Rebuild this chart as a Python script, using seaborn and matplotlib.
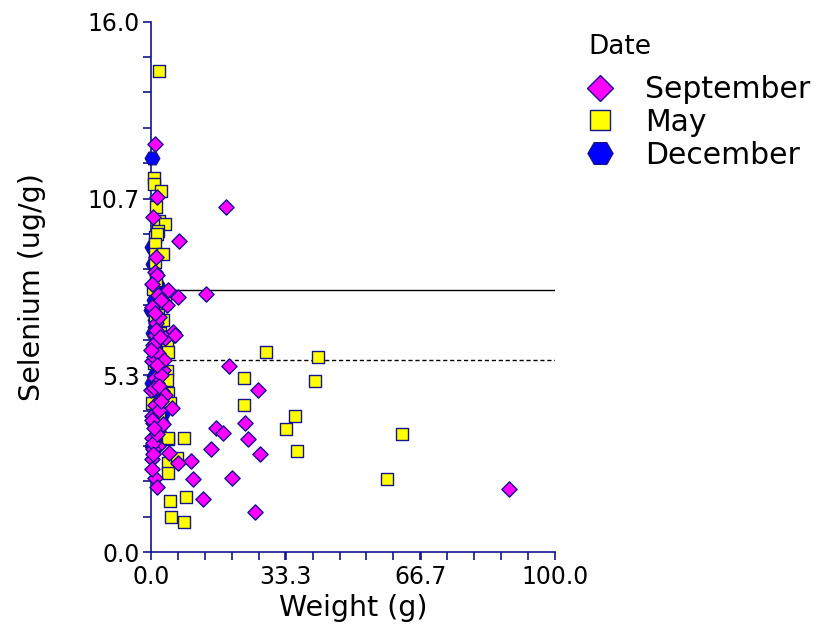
import numpy as np
import pandas as pd
import matplotlib
matplotlib.use("Agg")
import matplotlib.pyplot as plt
import seaborn as sns
from matplotlib.ticker import FixedLocator, MultipleLocator
from matplotlib.lines import Line2D

# ---- data ----
sep_weight = [1.0, 18.6, 6.9, 13.6, 6.7, 5.7, 19.3, 26.5, 23.3, 16.1, 17.8, 24.0, 14.9, 27.0,
              9.9, 20.0, 10.4, 12.9, 25.7, 88.6,
              1.5, 0.5, 1.0, 1.5, 4.2, 1.7, 4.0, 1.0, 5.4, 3.5, 5.9, 0.5, 0.2, 1.0, 1.5,
              0.0, 2.7, 5.2, 0.5, 1.5, 0.2, 1.7, 0.5, 0.2, 6.7, 1.0, 1.5, 2.2, 0.8, 1.2,
              2.0, 0.3, 3.0, 0.6, 1.8, 2.4, 0.4, 1.1, 3.2, 0.9,
              0.3, 1.3, 2.6, 0.7, 1.9, 0.1, 2.9, 1.4, 0.6, 2.1, 0.2, 1.6, 3.6, 0.9, 2.3,
              0.4, 1.2, 4.4, 0.8, 2.5]
sep_selenium = [12.3, 10.4, 9.4, 7.8, 7.7, 6.55, 5.6, 4.9, 3.9, 3.75, 3.6, 3.4, 3.1, 2.95,
                2.75, 2.25, 2.2, 1.6, 1.2, 1.9,
                10.7, 10.1, 8.45, 8.35, 7.9, 7.75, 7.45, 6.55, 6.65, 6.45, 6.55, 6.25, 5.75, 5.25, 5.1,
                4.9, 4.85, 4.35, 3.9, 3.7, 3.45, 3.2, 3.1, 2.8, 2.7, 2.25, 1.95, 4.6, 5.9, 6.9,
                7.1, 4.1, 5.5, 3.3, 6.0, 7.6, 8.1, 4.45, 5.8, 6.3,
                7.4, 6.7, 5.35, 4.95, 4.3, 6.1, 3.85, 3.55, 2.95, 5.0, 4.0, 5.65, 4.75, 7.2, 6.5,
                2.5, 8.9, 3.0, 3.75, 4.55]

may_weight = [2.0, 28.5, 41.3, 23.0, 40.6, 23.0, 35.6, 33.4, 62.1, 36.1, 58.4, 8.2, 8.7, 4.7,
              5.0, 8.2, 4.2, 6.4, 4.2, 4.2,
              0.7, 0.7, 2.5, 1.2, 2.0, 3.5, 1.7, 1.0, 1.5, 1.0, 1.0, 3.0, 1.0, 0.5, 1.7,
              3.0, 1.0, 4.0, 4.2, 4.0, 4.0, 4.2, 0.2, 4.7, 4.2, 1.3, 2.2, 0.8, 3.4, 1.9]
may_selenium = [14.5, 6.05, 5.9, 5.25, 5.15, 4.45, 4.1, 3.7, 3.55, 3.05, 2.2, 3.45, 1.65, 1.55,
                1.05, 0.9, 2.7, 2.85, 2.4, 3.4,
                11.3, 11.1, 10.9, 10.4, 10.0, 9.9, 9.7, 9.5, 9.6, 9.3, 9.0, 9.0, 8.75, 7.95, 7.25,
                7.0, 7.05, 6.35, 6.05, 5.45, 5.2, 4.8, 4.5, 4.5, 3.45, 8.2, 6.6, 5.7, 7.5, 4.2]

dec_weight = [0.3, 0.0, 2.2, 2.2, 0.6, 1.0, 1.8, 0.4, 2.8, 1.4, 0.8, 2.5, 1.2, 0.5, 3.0, 1.6,
              0.2, 1.1, 2.0, 0.7, 1.5, 0.3, 2.4, 0.9]
dec_selenium = [11.9, 7.3, 5.5, 4.5, 8.7, 6.8, 6.2, 5.1, 3.9, 4.8, 7.6, 3.5, 5.9, 6.6, 4.2, 8.1,
                9.2, 7.0, 4.0, 5.3, 6.4, 3.2, 4.7, 5.7]

mean_solid = 7.9
mean_dashed = 5.8

groups = ["September", "May", "December"]
xticks = [0.0, 33.3, 66.7, 100.0]
xticklabels = ["0.0", "33.3", "66.7", "100.0"]
yticks = [0.0, 16 / 3, 32 / 3, 16.0]
yticklabels = ["0.0", "5.3", "10.7", "16.0"]

df = pd.concat([
    pd.DataFrame({"Weight": dec_weight, "Selenium": dec_selenium, "Date": "December"}),
    pd.DataFrame({"Weight": may_weight, "Selenium": may_selenium, "Date": "May"}),
    pd.DataFrame({"Weight": sep_weight, "Selenium": sep_selenium, "Date": "September"}),
], ignore_index=True)

sns.set_style("white")
plt.rcParams["font.family"] = ["DejaVu Sans"]
plt.rcParams["text.color"] = "black"
plt.rcParams["axes.labelcolor"] = "black"

navy = "#14148c"
fig = plt.figure(figsize=(8.2, 6.39), dpi=100)
ax = fig.add_axes([0.184, 0.136, 0.493, 0.830])

palette = {"September": "#ff00ff", "May": "#ffff00", "December": "#0000ff"}
markers = {"September": "D", "May": "s", "December": "H"}
sizes_map = {"September": 60, "May": 72, "December": 110}
legend_ms = {"September": 13, "May": 14, "December": 18}

for grp in ["December", "May", "September"]:
    sub = df[df["Date"] == grp]
    sns.scatterplot(data=sub, x="Weight", y="Selenium", color=palette[grp],
                    marker=markers[grp], s=sizes_map[grp], edgecolor=navy,
                    linewidth=1.0, ax=ax, zorder=3, legend=False, clip_on=False)

ax.axhline(mean_solid, color="black", lw=1.0, zorder=2)
ax.axhline(mean_dashed, color="black", lw=1.0, ls=(0, (3, 2)), zorder=2)

ax.set_xlim(0, 100)
ax.set_ylim(0, 16)
ax.xaxis.set_major_locator(FixedLocator(xticks))
ax.set_xticklabels(xticklabels)
ax.yaxis.set_major_locator(FixedLocator(yticks))
ax.set_yticklabels(yticklabels)
ax.xaxis.set_minor_locator(MultipleLocator(100 / 15))
ax.yaxis.set_minor_locator(MultipleLocator(16 / 15))

for side in ["top", "right"]:
    ax.spines[side].set_visible(False)
for side in ["left", "bottom"]:
    ax.spines[side].set_color(navy)
    ax.spines[side].set_linewidth(1.2)

ax.tick_params(axis="both", which="both", direction="out", color=navy, width=1.2,
               length=6, labelsize=17, labelcolor="black", left=True, bottom=True)
ax.tick_params(axis="y", which="major", pad=2)
ax.tick_params(axis="x", which="major", pad=3)

ax.set_xlabel("Weight (g)", fontsize=20.5, labelpad=4)
ax.set_ylabel("Selenium (ug/g)", fontsize=20.5, labelpad=30)

fig.text(588 / 820, 1 - 47 / 639, "Date", fontsize=19, ha="left", va="center")

handles = [Line2D([], [], marker=markers[g], ls="none", markerfacecolor=palette[g],
                  markeredgecolor=navy, markersize=legend_ms[g], markeredgewidth=1.0)
           for g in groups]
leg = fig.legend(handles, groups,
                 loc="upper left", bbox_to_anchor=(587.5 / 820, 1 - 75 / 639), frameon=False,
                 fontsize=21.5, handlelength=0.85, handletextpad=1.09,
                 labelspacing=0.13, borderaxespad=0, borderpad=0)

fig.savefig("out.png", dpi=100)
